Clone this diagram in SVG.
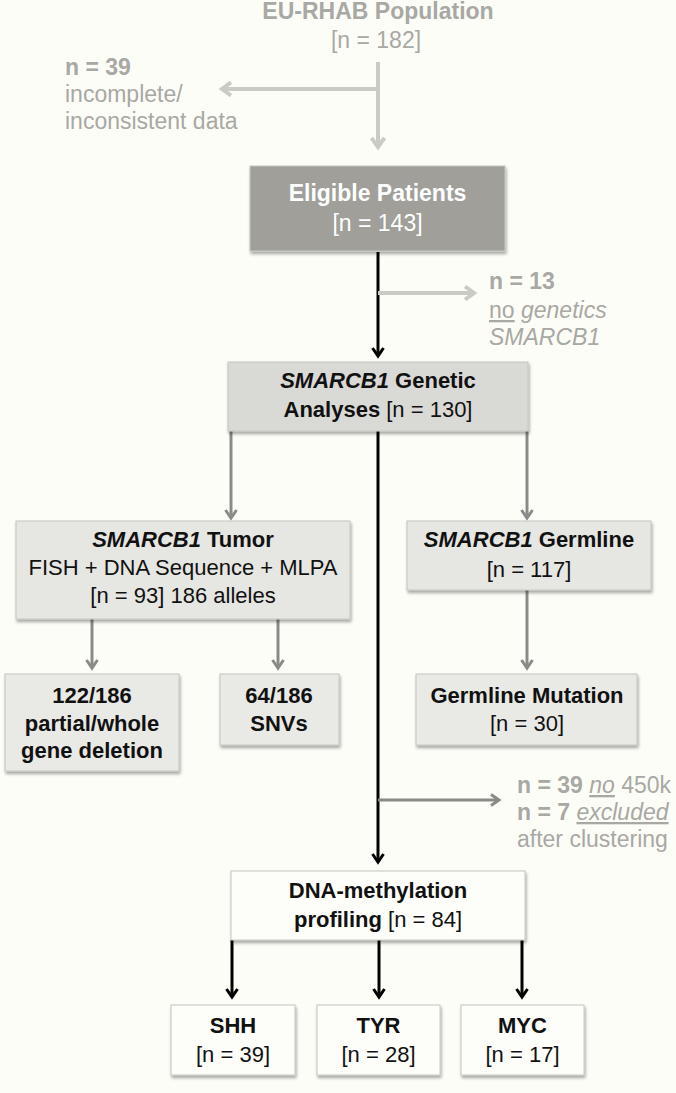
<svg xmlns="http://www.w3.org/2000/svg" width="676" height="1093" viewBox="0 0 676 1093">
<defs>
<style>
text{font-family:"Liberation Sans",Arial,sans-serif;font-size:22px;}
.big{font-size:23px;}
.b{font-weight:bold;}
.i{font-style:italic;}
.u{text-decoration:underline;}
.c{text-anchor:middle;}
.lt{fill:#a8a8a4;}
.dk{fill:#111;}
.wt{fill:#ffffff;}
.box{stroke:#c4c4c0;stroke-width:1;filter:url(#sh);}
.lineB{stroke:#000;stroke-width:3;fill:none;marker-end:url(#aB);}
.lineG{stroke:#8a8a88;stroke-width:3;fill:none;marker-end:url(#aG);}
.lineL{stroke:#cbcbc6;stroke-width:4;fill:none;marker-end:url(#aL);}
</style>
<filter id="sh" x="-10%" y="-10%" width="125%" height="130%">
<feDropShadow dx="1" dy="2.5" stdDeviation="1.5" flood-color="#000" flood-opacity="0.35"/>
</filter>
<marker id="aB" markerUnits="userSpaceOnUse" viewBox="0 0 14 14" markerWidth="14" markerHeight="14" refX="10" refY="7" orient="auto">
<path d="M2,1.5 L10,7 L2,12.5" fill="none" stroke="#000" stroke-width="3"/>
</marker>
<marker id="aG" markerUnits="userSpaceOnUse" viewBox="0 0 14 14" markerWidth="14" markerHeight="14" refX="10" refY="7" orient="auto">
<path d="M2,1.5 L10,7 L2,12.5" fill="none" stroke="#8a8a88" stroke-width="3"/>
</marker>
<marker id="aL" markerUnits="userSpaceOnUse" viewBox="0 0 16 16" markerWidth="16" markerHeight="16" refX="11" refY="8" orient="auto">
<path d="M2,1.5 L11,8 L2,14.5" fill="none" stroke="#cbcbc6" stroke-width="4"/>
</marker>
</defs>
<rect x="0" y="0" width="676" height="1093" fill="#fdfdf7"/>

<g id="connectors">
<path class="lineL" d="M378,62 V147"/>
<path class="lineL" d="M378,89 H222"/>
<path class="lineB" d="M378,252 V356"/>
<path class="lineL" d="M378,293 H474"/>
<path class="lineG" d="M231,431 V518"/>
<path class="lineG" d="M527,431 V518"/>
<path class="lineB" d="M378,431 V862"/>
<path class="lineG" d="M378,800 H499"/>
<path class="lineG" d="M92,619 V668"/>
<path class="lineG" d="M278,619 V668"/>
<path class="lineG" d="M527,590 V668"/>
<path class="lineB" d="M232,940 V997"/>
<path class="lineB" d="M379,940 V997"/>
<path class="lineB" d="M522,940 V997"/>
</g>

<g id="population">
<text class="big b c lt" x="378" y="19">EU-RHAB Population</text>
<text class="big c lt" x="376" y="48">[n = 182]</text>
</g>

<g id="excluded-39">
<text class="big b lt" x="65" y="75">n = 39</text>
<text class="big lt" x="65" y="102">incomplete/</text>
<text class="big lt" x="65" y="129">inconsistent data</text>
</g>

<g id="eligible">
<rect class="box" x="250" y="166" width="255" height="85" fill="#a09f9a" stroke="#b8b7b2"/>
<text class="big b c wt" x="377.5" y="201">Eligible Patients</text>
<text class="big c wt" x="377.5" y="231">[n = 143]</text>
</g>

<g id="excluded-13">
<text class="big b lt" x="489" y="289">n = 13</text>
<text class="big lt" x="489" y="318"><tspan class="u">no</tspan><tspan class="i"> genetics</tspan></text>
<text class="big i lt" x="489" y="345">SMARCB1</text>
</g>

<g id="genetic">
<rect class="box" x="228" y="362" width="300" height="69" fill="#d9d9d5"/>
<text class="b c dk" x="378" y="388"><tspan class="i">SMARCB1</tspan> Genetic</text>
<text class="c dk" x="378" y="417"><tspan class="b">Analyses</tspan> [n = 130]</text>
</g>

<g id="tumor">
<rect class="box" x="16" y="521" width="334" height="98" fill="#e6e6e2"/>
<text class="b c dk" x="183" y="547"><tspan class="i">SMARCB1</tspan> Tumor</text>
<text class="c dk" x="183" y="575">FISH + DNA Sequence + MLPA</text>
<text class="c dk" x="183" y="603">[n = 93] 186 alleles</text>
</g>

<g id="germline">
<rect class="box" x="407" y="521" width="244" height="69" fill="#e6e6e2"/>
<text class="b c dk" x="529" y="547"><tspan class="i">SMARCB1</tspan> Germline</text>
<text class="c dk" x="529" y="577">[n = 117]</text>
</g>

<g id="deletion">
<rect class="box" x="5" y="674" width="174" height="97" fill="#e9e9e5"/>
<text class="b c dk" x="92" y="703">122/186</text>
<text class="b c dk" x="92" y="731">partial/whole</text>
<text class="b c dk" x="92" y="758">gene deletion</text>
</g>

<g id="snvs">
<rect class="box" x="220" y="674" width="119" height="71" fill="#e9e9e5"/>
<text class="b c dk" x="279" y="703">64/186</text>
<text class="b c dk" x="279" y="731">SNVs</text>
</g>

<g id="germline-mutation">
<rect class="box" x="416" y="674" width="221" height="71" fill="#e9e9e5"/>
<text class="b c dk" x="527" y="703">Germline Mutation</text>
<text class="c dk" x="527" y="731">[n = 30]</text>
</g>

<g id="excluded-450k">
<text class="big lt" x="517" y="793"><tspan class="b">n = 39</tspan> <tspan class="i u">no</tspan> 450k</text>
<text class="big lt" x="517" y="820"><tspan class="b">n = 7</tspan> <tspan class="i u">excluded</tspan></text>
<text class="big lt" x="517" y="847">after clustering</text>
</g>

<g id="methylation">
<rect class="box" x="231" y="871" width="294" height="69" fill="#fdfdf9" stroke="#d0d0cc"/>
<text class="b c dk" x="378" y="898">DNA-methylation</text>
<text class="c dk" x="378" y="927"><tspan class="b">profiling</tspan> [n = 84]</text>
</g>

<g id="shh">
<rect class="box" x="171" y="1005" width="124" height="70" fill="#fdfdf9" stroke="#d0d0cc"/>
<text class="b c dk" x="233" y="1033">SHH</text>
<text class="c dk" x="233" y="1062">[n = 39]</text>
</g>

<g id="tyr">
<rect class="box" x="317" y="1005" width="123" height="70" fill="#fdfdf9" stroke="#d0d0cc"/>
<text class="b c dk" x="378.5" y="1033">TYR</text>
<text class="c dk" x="378.5" y="1062">[n = 28]</text>
</g>

<g id="myc">
<rect class="box" x="461" y="1005" width="123" height="70" fill="#fdfdf9" stroke="#d0d0cc"/>
<text class="b c dk" x="522.5" y="1033">MYC</text>
<text class="c dk" x="522.5" y="1062">[n = 17]</text>
</g>
</svg>
